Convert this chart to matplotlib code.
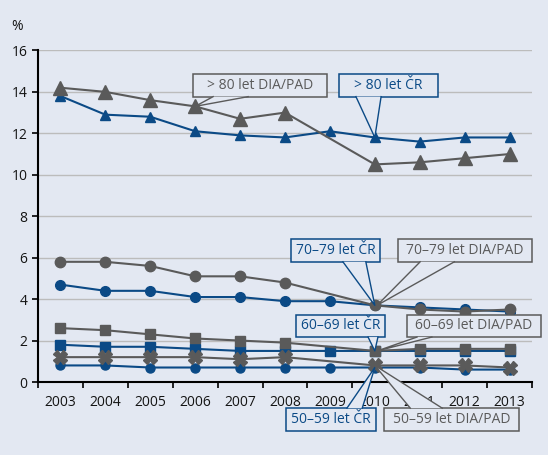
import numpy as np
import matplotlib
matplotlib.use('Agg')
import matplotlib.pyplot as plt
from matplotlib.patches import Rectangle, Polygon

plt.rcParams['font.family'] = ['Open Sans', 'DejaVu Sans']

years = ['2003', '2004', '2005', '2006', '2007', '2008', '2009', '2010', '2011', '2012', '2013']
nan = np.nan

# > 80 let
cr_80 = [13.8, 12.9, 12.8, 12.1, 11.9, 11.8, 12.1, 11.8, 11.6, 11.8, 11.8]
dia_80 = [14.2, 14.0, 13.6, 13.3, 12.7, 13.0, nan, 10.5, 10.6, 10.8, 11.0]
# 70-79 let
cr_70 = [4.7, 4.4, 4.4, 4.1, 4.1, 3.9, 3.9, 3.7, 3.6, 3.5, 3.4]
dia_70 = [5.8, 5.8, 5.6, 5.1, 5.1, 4.8, nan, 3.7, 3.5, 3.4, 3.5]
# 60-69 let
cr_60 = [1.8, 1.7, 1.7, 1.6, 1.5, 1.5, 1.5, 1.5, 1.5, 1.5, 1.5]
dia_60 = [2.6, 2.5, 2.3, 2.1, 2.0, 1.9, nan, 1.5, 1.6, 1.6, 1.6]
# 50-59 let
cr_50 = [0.8, 0.8, 0.7, 0.7, 0.7, 0.7, 0.7, 0.7, 0.7, 0.6, 0.6]
dia_50 = [1.2, 1.2, 1.2, 1.2, 1.1, 1.2, nan, 0.8, 0.8, 0.8, 0.7]

BG = '#e3e8f2'
BLUE = '#0b4a86'
GRAY = '#5a5a5a'
FS = 10

fig = plt.figure(figsize=(5.48, 4.55), dpi=100, facecolor=BG)
ax = fig.add_axes([0.0693, 0.1604, 0.9015, 0.7288])
ax.set_facecolor(BG)

x = np.arange(len(years))


def draw(vals, color, marker, ms, z):
    v = np.array(vals, dtype=float)
    ok = ~np.isnan(v)
    ax.plot(x[ok], v[ok], color=color, lw=1.5, marker=marker, ms=ms,
            mec=color, mfc=color, zorder=z)


# blue first, gray on top
draw(cr_80, BLUE, '^', 6.5, 3)
draw(cr_70, BLUE, 'o', 7, 3)
draw(cr_60, BLUE, 's', 6.5, 3)
draw(cr_50, BLUE, 'o', 6.5, 3)
draw(dia_80, GRAY, '^', 10, 4)
draw(dia_70, GRAY, 'o', 7.5, 4)
draw(dia_60, GRAY, 's', 7.5, 4)
draw(dia_50, GRAY, 'X', 10, 4)

ax.set_xlim(-0.5, len(years) - 0.5)
ax.set_ylim(0, 16)
ax.set_yticks(range(0, 17, 2))
ax.set_xticks(x)
ax.set_xticklabels(years)
ax.set_xticks(np.arange(-0.5, len(years), 1), minor=True)
ax.tick_params(axis='x', which='major', length=0, pad=9, labelsize=FS, colors='#141414')
ax.tick_params(axis='x', which='minor', length=4, width=1.2, direction='out', color='black')
ax.tick_params(axis='y', length=4, width=1.2, direction='out', labelsize=FS, colors='#141414')
ax.tick_params(axis='both', which='both', color='black')
for y in range(2, 17, 2):
    ax.axhline(y, color='#bcbcbc', lw=1.0, zorder=1)
for s in ['top', 'right']:
    ax.spines[s].set_visible(False)
for s in ['left', 'bottom']:
    ax.spines[s].set_linewidth(1.5)
    ax.spines[s].set_color('black')
    ax.spines[s].set_zorder(5)

fig.text(0.021, 0.942, '%', fontsize=FS, color='#141414', va='center')

# callouts: text, color, box (x0, x1, y0, y1), tail base (xa, xb), target point
callouts = [
    ('> 80 let DIA/PAD', GRAY, (2.95, 5.94, 13.77, 14.88), (3.40, 4.18), (3, dia_80[3])),
    ('> 80 let ČR', BLUE, (6.20, 8.41, 13.77, 14.88), (6.58, 7.14), (7, cr_80[7])),
    ('70–79 let ČR', BLUE, (5.13, 7.12, 5.80, 6.91), (6.29, 6.80), (7, cr_70[7])),
    ('70–79 let DIA/PAD', GRAY, (7.52, 10.50, 5.80, 6.91), (8.01, 8.77), (7.05, dia_70[7])),
    ('60–69 let ČR', BLUE, (5.25, 7.23, 2.17, 3.24), (6.85, 7.07), (7, cr_60[7])),
    ('60–69 let DIA/PAD', GRAY, (7.72, 10.70, 2.17, 3.24), (7.94, 8.27), (7.05, dia_60[7])),
    ('50–59 let ČR', BLUE, (5.02, 7.03, -2.37, -1.26), (6.38, 6.72), (7, cr_50[7])),
    ('50–59 let DIA/PAD', GRAY, (7.21, 10.21, -2.37, -1.26), (7.79, 8.50), (7, dia_50[7])),
]

for label, col, (x0, x1, y0, y1), (xa, xb), (px, py) in callouts:
    rect = Rectangle((x0, y0), x1 - x0, y1 - y0, facecolor=BG, edgecolor=col,
                     lw=1.1, clip_on=False, zorder=8)
    ax.add_patch(rect)
    base_y = y0 if py < y0 else y1
    # cover the box edge under the wedge base, then draw the wedge sides
    cover = Polygon([(xa, base_y), (xb, base_y), (px, py)], closed=True,
                    facecolor=BG, edgecolor='none', clip_on=False, zorder=8.5)
    ax.add_patch(cover)
    ax.plot([xa, px, xb], [base_y, py, base_y], color=col, lw=1.0,
            clip_on=False, zorder=9)
    ax.text((x0 + x1) / 2, (y0 + y1) / 2, label, color=col, fontsize=FS,
            ha='center', va='center', zorder=10, clip_on=False)

fig.savefig('out.png', dpi=100, facecolor=BG)
